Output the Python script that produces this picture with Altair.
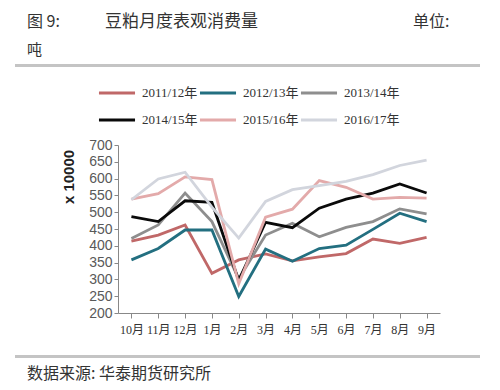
import altair as alt
import pandas as pd

months = ["10月", "11月", "12月", "1月", "2月", "3月", "4月", "5月", "6月", "7月", "8月", "9月"]
series_names = ["2011/12年", "2012/13年", "2013/14年", "2014/15年", "2015/16年", "2016/17年"]
s2011 = [414, 432, 462, 318, 358, 376, 355, 367, 377, 420, 407, 425]
s2012 = [358, 392, 447, 447, 249, 390, 354, 392, 402, 449, 497, 472]
s2013 = [422, 462, 557, 472, 302, 432, 467, 427, 455, 472, 510, 495]
s2014 = [487, 472, 534, 529, 297, 470, 454, 512, 539, 557, 584, 557]
s2015 = [539, 555, 605, 597, 287, 485, 509, 594, 574, 539, 544, 542]
s2016 = [537, 599, 619, 515, 423, 532, 567, 579, 592, 612, 639, 655]
colors = ["#C06868", "#236F80", "#8E8E8E", "#0A0A0A", "#E3AAAA", "#D2D5DD"]
y_ticks = [200, 250, 300, 350, 400, 450, 500, 550, 600, 650, 700]

title_left = "图 9:"
title_main = "豆粕月度表观消费量"
unit_label = "单位:"
unit_word = "吨"
source = "数据来源: 华泰期货研究所"
y_title = "x 10000"

rows = []
for name, vals in zip(series_names, [s2011, s2012, s2013, s2014, s2015, s2016]):
    for i, (m, v) in enumerate(zip(months, vals)):
        rows.append({"series": name, "month": m, "value": v, "order": i})
df = pd.DataFrame(rows)

CJK_SERIF = "Liberation Serif, Noto Sans CJK SC"
CJK = "Noto Sans CJK SC"

lines = alt.Chart(df).mark_line(strokeWidth=2.8).encode(
    x=alt.X("month:N", sort=months, title=None,
            scale=alt.Scale(paddingInner=0, paddingOuter=0),
            axis=alt.Axis(bandPosition=0, labelAngle=0, labelFont=CJK_SERIF,
                          labelFontSize=12, labelColor="#333333", domainColor="#888888",
                          tickColor="#888888", tickSize=5, labelPadding=6)),
    y=alt.Y("value:Q", title=None,
            scale=alt.Scale(domain=[200, 700], nice=False, zero=False),
            axis=alt.Axis(values=y_ticks, labelFont="Liberation Sans", labelFontSize=14,
                          labelColor="#595959", domainColor="#888888", tickColor="#888888",
                          tickSize=4, labelPadding=2, grid=False)),
    color=alt.Color("series:N", sort=series_names,
                    scale=alt.Scale(domain=series_names, range=colors),
                    legend=alt.Legend(orient="none", legendX=-21, legendY=-72, columns=3,
                                      direction="horizontal",
                                      symbolType="stroke", symbolSize=1300,
                                      symbolStrokeWidth=3, labelFont=CJK_SERIF,
                                      labelFontSize=13, labelColor="#333333",
                                      labelOffset=5, columnPadding=-6, rowPadding=-11,
                                      title=None)),
    order="order:Q",
)

def text_layer(txt, x, y, size, font=CJK, weight="normal", angle=0, align="left", color="#333333"):
    return alt.Chart(pd.DataFrame({"t": [txt]})).mark_text(
        font=font, fontSize=size, fontWeight=weight, angle=angle, align=align,
        baseline="middle", color=color
    ).encode(text="t:N", x=alt.value(x), y=alt.value(y))

def rule_layer(y):
    return alt.Chart(pd.DataFrame({"t": [0]})).mark_rule(color="#C4C4C4", strokeWidth=3).encode(
        x=alt.value(-103), x2=alt.value(362), y=alt.value(y))

layers = [
    text_layer(title_left, -91, -123, 16),
    text_layer(title_main, -13, -123, 17),
    text_layer(unit_label, 295, -123, 16),
    text_layer(unit_word, -91, -95, 15),
    rule_layer(-79.5),
    rule_layer(211.5),
    text_layer(source, -91, 229, 16),
    text_layer(y_title, -49, 32, 15, font="Liberation Sans", weight="bold", angle=270,
               align="center", color="#222222"),
    lines,
]

chart = alt.layer(*layers).properties(
    width=322, height=168,
    padding={"left": 110, "top": 137, "right": 50, "bottom": 72},
    autosize=alt.AutoSizeParams(type="none"),
).configure_view(stroke=None)

chart.save("out.html", embed_options={"renderer": "svg", "actions": False})
